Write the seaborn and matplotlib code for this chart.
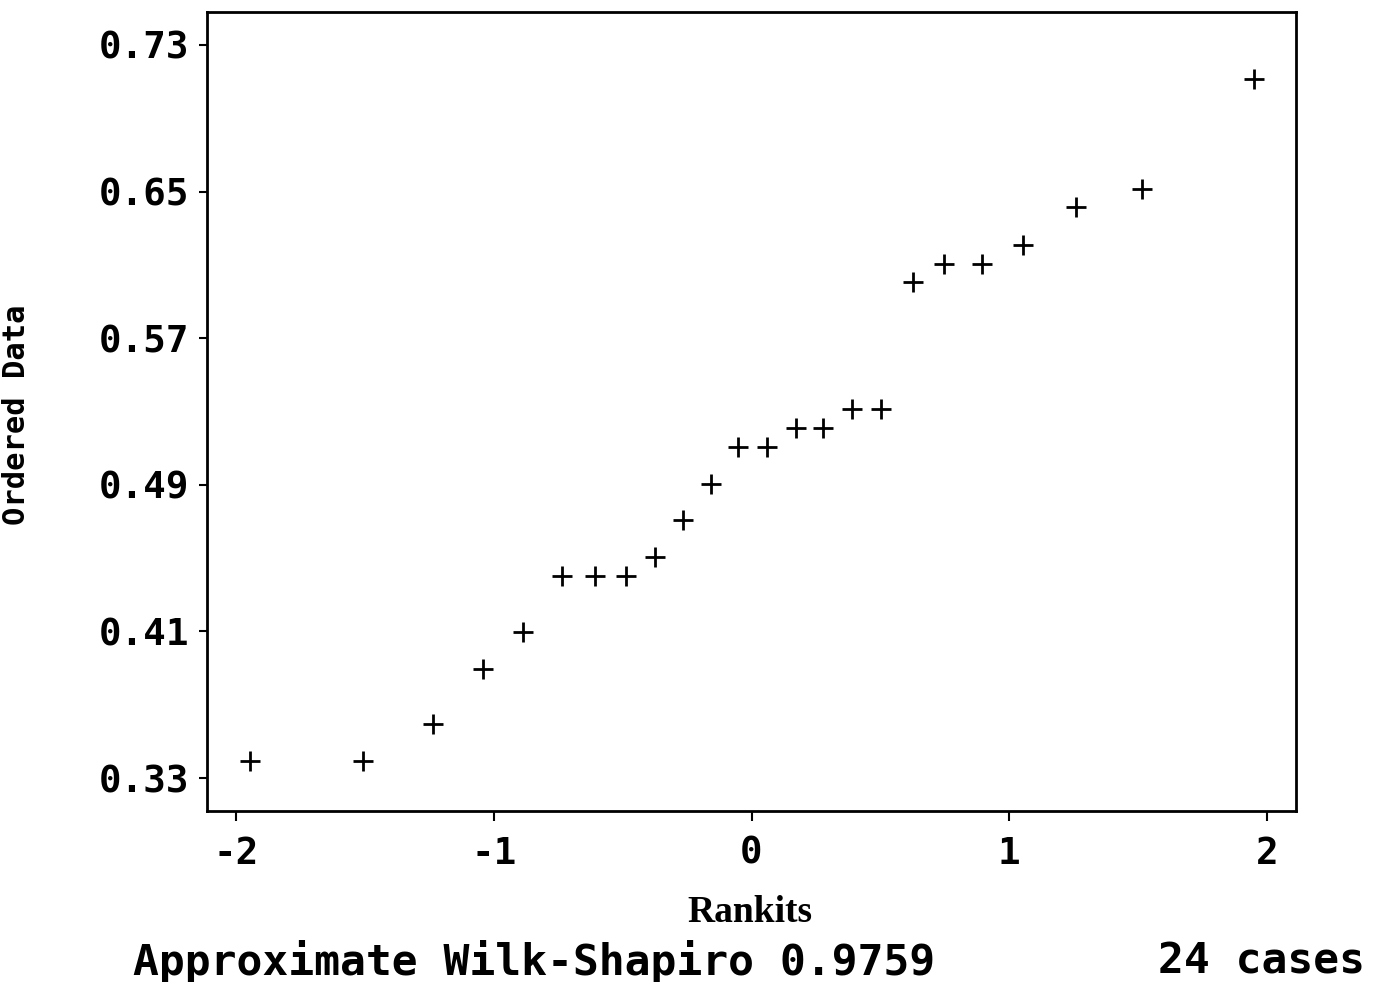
import matplotlib
matplotlib.use("Agg")
import matplotlib.pyplot as plt
import seaborn as sns
import pandas as pd

# Data
rankits = [-1.946, -1.506, -1.235, -1.041, -0.885, -0.734, -0.607, -0.488,
           -0.374, -0.267, -0.157, -0.051, 0.060, 0.173, 0.279, 0.389,
           0.502, 0.625, 0.748, 0.894, 1.054, 1.258, 1.514, 1.951]
ordered = [0.3394, 0.3394, 0.3595, 0.3893, 0.4097, 0.4404, 0.4404, 0.4404,
           0.4504, 0.4708, 0.4904, 0.5105, 0.5105, 0.5208, 0.5208, 0.5312,
           0.5312, 0.6007, 0.6107, 0.6107, 0.6207, 0.6414, 0.6514, 0.7115]
xticks = [-2, -1, 0, 1, 2]
xtick_labels = ["-2", "-1", "0", "1", "2"]
yticks = [0.33, 0.41, 0.49, 0.57, 0.65, 0.73]
ytick_labels = ["0.33", "0.41", "0.49", "0.57", "0.65", "0.73"]
xlabel = "Rankits"
ylabel = "Ordered Data"
footer_left = "Approximate Wilk-Shapiro 0.9759"
footer_right = "24 cases"

df = pd.DataFrame({"Rankits": rankits, "Ordered": ordered})

sns.set_theme(style="white")
plt.rcParams["font.family"] = ["DejaVu Sans Mono", "DejaVu Sans"]

fig = plt.figure(figsize=(13.75, 9.82), dpi=100)
ax = fig.add_axes([207 / 1375, 1 - 810.7 / 982, (1296 - 207) / 1375, (810.7 - 12) / 982])

sns.scatterplot(data=df, x="Rankits", y="Ordered", ax=ax, marker="+",
                s=200, color="black", linewidth=2.0, legend=False)

ax.set_xlim(-2.113, 2.113)
ax.set_ylim(0.3122, 0.748)
ax.set_xticks(xticks)
ax.set_xticklabels(xtick_labels)
ax.set_yticks(yticks)
ax.set_yticklabels(ytick_labels)
ax.set_xlabel("")
ax.set_ylabel("")

for s in ax.spines.values():
    s.set_visible(True)
    s.set_color("black")
    s.set_linewidth(2.0)

ax.tick_params(axis="both", which="both", direction="out", color="black",
               width=1.5, labelcolor="black")
ax.tick_params(axis="y", length=6, pad=7, left=True)
ax.tick_params(axis="x", length=7, pad=11, bottom=True)
for lab in ax.get_xticklabels() + ax.get_yticklabels():
    lab.set_fontsize(27)
    lab.set_fontweight("bold")
    lab.set_family(["DejaVu Sans Mono"])

fig.text(750 / 1375, 1 - 912 / 982, xlabel, ha="center", va="center",
         fontsize=27, fontweight="bold", family=["Liberation Serif"], color="black")
fig.text(133 / 1375, 1 - 962 / 982, footer_left, ha="left", va="center",
         fontsize=31, fontweight="bold", family=["DejaVu Sans Mono"], color="black")
fig.text(1365 / 1375, 1 - 962 / 982, footer_right, ha="right", va="center",
         fontsize=31, fontweight="bold", family=["DejaVu Sans Mono"], color="black")
fig.text(2 / 1375, 1 - 415 / 982, ylabel, ha="left", va="center", rotation=90,
         fontsize=22, fontweight="bold", family=["DejaVu Sans Mono"], color="black")

fig.savefig("out.png", dpi=100, facecolor="white")
